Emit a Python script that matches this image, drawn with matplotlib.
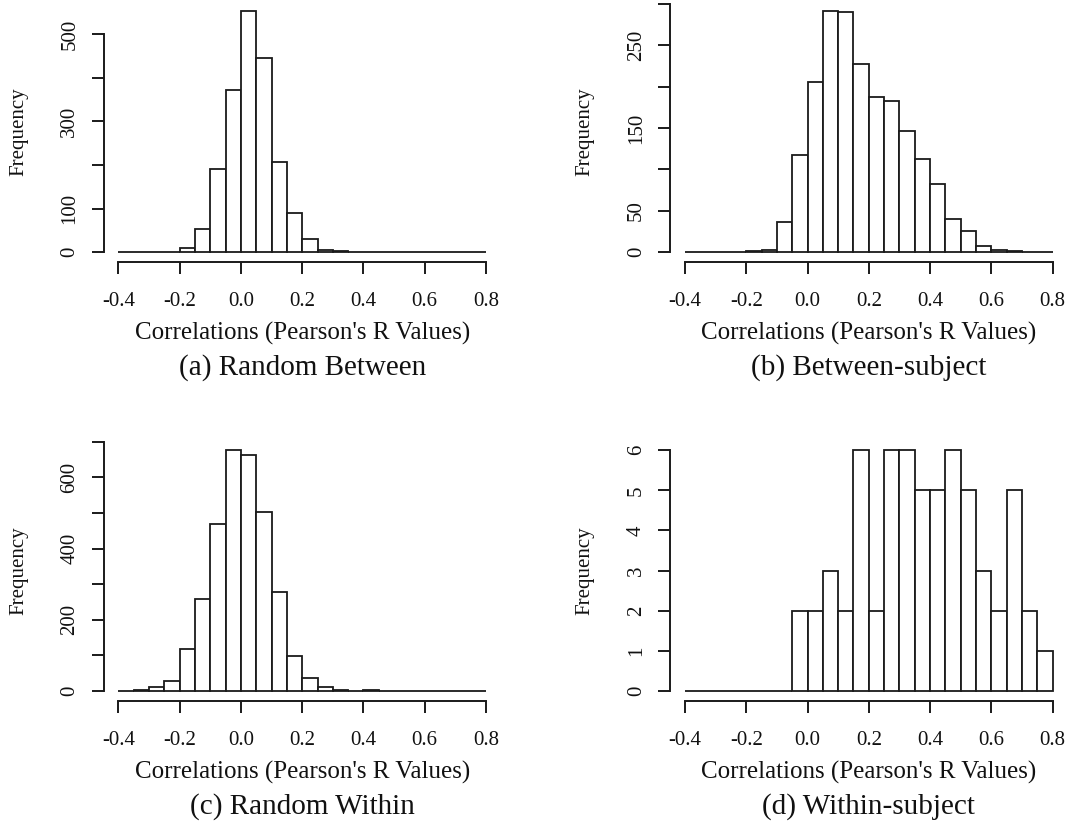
import matplotlib
matplotlib.use("Agg")
import matplotlib.pyplot as plt
import numpy as np

plt.rcParams['font.family'] = ['Liberation Serif', 'DejaVu Serif']

# histogram bins: 0.05 wide from -0.4 to 0.8
bin_edges = np.round(np.linspace(-0.4, 0.8, 25), 2)

random_between = [0, 0, 0, 1, 10, 52, 191, 372, 553, 445, 206, 89,
                  29, 4, 2, 1, 0, 0, 0, 0, 0, 0, 0, 0]
between_subject = [0, 0, 0, 0, 1, 2, 36, 117, 206, 291, 290, 227,
                   187, 183, 146, 113, 82, 40, 26, 7, 2, 1, 0, 0]
random_within = [0, 3, 11, 29, 117, 259, 470, 676, 664, 503, 277, 99,
                 36, 12, 3, 0, 2, 0, 0, 0, 0, 0, 0, 0]
within_subject = [0, 0, 0, 0, 0, 0, 0, 2, 2, 3, 2, 6,
                  2, 6, 6, 5, 5, 6, 5, 3, 2, 5, 2, 1]

x_ticks = [-0.4, -0.2, 0.0, 0.2, 0.4, 0.6, 0.8]
x_tick_labels = ['-0.4', '-0.2', '0.0', '0.2', '0.4', '0.6', '0.8']

# y ticks, with the labels R dropped for overlap left blank
yticks_a = [0, 100, 200, 300, 400, 500]
ylabels_a = ['0', '100', '', '300', '', '500']
yticks_b = [0, 50, 100, 150, 200, 250, 300]
ylabels_b = ['0', '50', '', '150', '', '250', '']
yticks_c = [0, 100, 200, 300, 400, 500, 600, 700]
ylabels_c = ['0', '', '200', '', '400', '', '600', '']
yticks_d = [0, 1, 2, 3, 4, 5, 6]
ylabels_d = ['0', '1', '2', '3', '4', '5', '6']

captions = ['(a) Random Between', '(b) Between-subject',
            '(c) Random Within', '(d) Within-subject']
xlabel = "Correlations (Pearson's R Values)"

W, H = 1091, 825
fig = plt.figure(figsize=(W / 100, H / 100), dpi=100)
line_col = '#1a1a1a'
text_col = '#111111'

panels = [
    (random_between, yticks_a, ylabels_a, 103.7, 261.7),
    (between_subject, yticks_b, ylabels_b, 670.3, 261.7),
    (random_within, yticks_c, ylabels_c, 103.7, 700.6),
    (within_subject, yticks_d, ylabels_d, 670.3, 700.6),
]

for i, (counts, yt, yl, left_px, bottom_px) in enumerate(panels):
    ax = fig.add_axes([left_px / W, (H - bottom_px) / H, 397 / W, 260 / H])
    ax.bar(bin_edges[:-1], counts, width=0.05, align='edge',
           facecolor='white', edgecolor=line_col, linewidth=1.3)
    ymax = max(counts)
    ax.set_xlim(-0.448, 0.848)
    ax.set_ylim(-0.04 * ymax, 1.04 * ymax)

    for side in ['top', 'right']:
        ax.spines[side].set_visible(False)
    ax.spines['left'].set_bounds(yt[0], yt[-1])
    ax.spines['bottom'].set_bounds(-0.4, 0.8)
    for side in ['left', 'bottom']:
        ax.spines[side].set_linewidth(1.4)
        ax.spines[side].set_color(line_col)

    ax.set_xticks(x_ticks)
    ax.set_xticklabels(x_tick_labels)
    ax.set_yticks(yt)
    ax.set_yticklabels(yl)
    ax.tick_params(axis='both', direction='out', length=8.6, width=1.4,
                   color=line_col, labelsize=15, labelcolor=text_col)
    ax.tick_params(axis='x', pad=13)
    ax.tick_params(axis='y', pad=9)
    for lbl in ax.get_yticklabels():
        lbl.set_rotation(90)
        lbl.set_va('center')

    # axis titles and sub-captions, centred under the axis
    cx = left_px + 198.5
    fig.text(cx / W, (H - (bottom_px + 77.5)) / H, xlabel, ha='center',
             va='baseline', fontsize=18, color=text_col)
    fig.text(cx / W, (H - (bottom_px + 113)) / H, captions[i], ha='center',
             va='baseline', fontsize=21, color=text_col)
    fig.text((left_px - 85) / W, (H - (bottom_px - 130)) / H, 'Frequency',
             rotation=90, ha='center', va='center', fontsize=15,
             color=text_col)

fig.savefig('out.png', dpi=100)
